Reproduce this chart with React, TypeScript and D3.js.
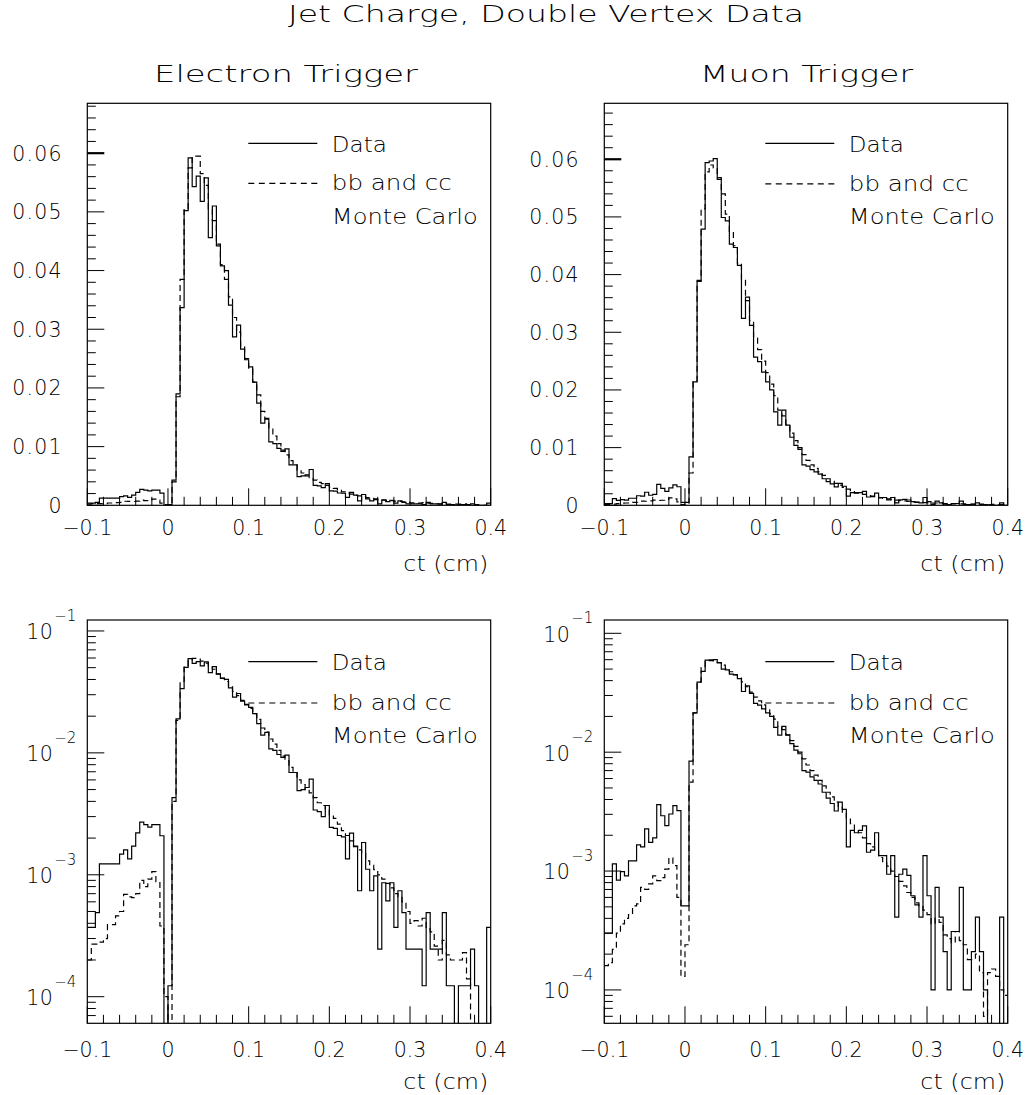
import React from "react";
import * as d3 from "d3";

// ---------- data (100 bins from -0.1 to 0.4 cm, width 0.005) ----------
const binLow = -0.1;
const binWidth = 0.005;
const nBins = 100;

const electronData = [
  0.00037, 0.00037, 0.00049, 0.00123, 0.00123, 0.00123, 0.00123, 0.00123, 0.00148, 0.0016,
  0.00135, 0.00172, 0.00221, 0.0027, 0.00258, 0.00246, 0.00258, 0.00258, 0.00209, 0,
  0.000123, 0.0043, 0.019, 0.0337, 0.0502, 0.0592, 0.0543, 0.0561, 0.0518, 0.0558,
  0.0456, 0.051, 0.0442, 0.0408, 0.04, 0.0341, 0.0287, 0.0307, 0.0266, 0.0248,
  0.0236, 0.021, 0.0174, 0.014, 0.0147, 0.0108, 0.0105, 0.0097, 0.0092, 0.0096,
  0.0069, 0.0069, 0.0049, 0.005, 0.0052, 0.0061, 0.0034, 0.0033, 0.003, 0.0037,
  0.00245, 0.0024, 0.0021, 0.00205, 0.00135, 0.0022, 0.00172, 0.00074, 0.00184, 0.00111,
  0.00074, 0.00098, 0.000246, 0.00086, 0.00061, 0.00086, 0.00037, 0.00074, 0.00049, 0.000246,
  0.000246, 0.000246, 0.000246, 0.000123, 0.00049, 0.000246, 0.000246, 0.000246, 0.00049, 0.000123,
  0.000123, 0, 0.000123, 0.000123, 0.000123, 0.000246, 0.000123, 0, 0, 0.00037,
];

const electronMC = [
  0.0002, 0.00027, 0.00027, 0.00028, 0.0003, 0.00039, 0.00039, 0.00046, 0.0005, 0.00069,
  0.00066, 0.00065, 0.0007, 0.0009, 0.0008, 0.00092, 0.00106, 0.00088, 0.00038, 0.0001,
  0, 0.004, 0.0185, 0.0385, 0.0505, 0.0575, 0.0595, 0.0595, 0.0565, 0.0545,
  0.0505, 0.0485, 0.0445, 0.041, 0.0385, 0.0355, 0.032, 0.0295, 0.027, 0.025,
  0.0232, 0.021, 0.0188, 0.016, 0.0148, 0.013, 0.0118, 0.0105, 0.0094, 0.0086,
  0.0076, 0.0069, 0.006, 0.0055, 0.005, 0.0047, 0.0043, 0.0039, 0.0037, 0.0034,
  0.0031, 0.0029, 0.0026, 0.0023, 0.0021, 0.0019, 0.0017, 0.0016, 0.0015, 0.0013,
  0.0012, 0.0011, 0.001, 0.00092, 0.00085, 0.00078, 0.0007, 0.00066, 0.0006, 0.0005,
  0.0004, 0.00042, 0.00038, 0.00044, 0.00036, 0.00034, 0.00026, 0.0002, 0.00029, 0.00022,
  0.0002, 0.0002, 0.0002, 0.00023, 0.00014, 0, 0, 0, 0, 0,
];

const muonData = [
  0.0003, 0.0003, 0.00115, 0.00084, 0.00099, 0.00091, 0.00122, 0.00122, 0.00166, 0.0016,
  0.00226, 0.00174, 0.0019, 0.00362, 0.00292, 0.00241, 0.00302, 0.00355, 0.00322, 0.00051,
  0.00051, 0.0084, 0.0214, 0.0388, 0.0479, 0.0594, 0.0597, 0.0601, 0.0568, 0.0499,
  0.0493, 0.0453, 0.0447, 0.0416, 0.0324, 0.0361, 0.0312, 0.0257, 0.0249, 0.0231,
  0.0214, 0.02, 0.0162, 0.0139, 0.0165, 0.0139, 0.0118, 0.0104, 0.0097, 0.007,
  0.0068, 0.0062, 0.0058, 0.0054, 0.0046, 0.0041, 0.0037, 0.0032, 0.0038, 0.0033,
  0.0016, 0.0022, 0.0021, 0.0022, 0.0024, 0.00144, 0.0015, 0.0021, 0.00135, 0.00135,
  0.00094, 0.00135, 0.00041, 0.00094, 0.00104, 0.00092, 0.00062, 0.00052, 0.00041, 0.00135,
  0.00062, 0.0001, 0.00073, 0.00041, 0.00021, 0.0001, 0.00031, 0.00031, 0.00073, 0.0001,
  0.0001, 0.00021, 0.00041, 0.00021, 0.0001, 0, 0, 0, 0.00041, 0,
];

const muonMC = [
  0.00016, 0.00017, 0.00022, 0.0003, 0.00036, 0.0004, 0.00043, 0.00051, 0.00053, 0.00073,
  0.0007, 0.00078, 0.00091, 0.00083, 0.00088, 0.00104, 0.00129, 0.00111, 0.0006, 0.00013,
  0.00024, 0.0056, 0.0214, 0.039, 0.0514, 0.0578, 0.059, 0.0585, 0.0565, 0.054,
  0.0505, 0.0475, 0.045, 0.042, 0.039, 0.0355, 0.032, 0.029, 0.027, 0.025,
  0.023, 0.021, 0.019, 0.0165, 0.0155, 0.014, 0.0125, 0.0112, 0.01, 0.0088,
  0.0078, 0.007, 0.0064, 0.0058, 0.0052, 0.0046, 0.0042, 0.0038, 0.0035, 0.0031,
  0.0028, 0.0025, 0.0022, 0.0021, 0.0019, 0.0017, 0.0016, 0.0015, 0.0013, 0.0012,
  0.0011, 0.001, 0.0009, 0.00082, 0.00075, 0.00066, 0.0006, 0.00054, 0.00051, 0.00047,
  0.00043, 0.00036, 0.0004, 0.00037, 0.00029, 0.00027, 0.00025, 0.00031, 0.00026, 0.00024,
  0.00018, 0.00018, 0.0002, 0.00014, 0.00006, 0.00014, 0.00015, 0.00013, 0.0001, 0.00009,
];

const xTickValues = [-0.1, 0, 0.1, 0.2, 0.3, 0.4];
const xTickLabels = ["\u22120.1", "0", "0.1", "0.2", "0.3", "0.4"];
const linTickValues = [0, 0.01, 0.02, 0.03, 0.04, 0.05, 0.06];
const linTickLabels = ["0", "0.01", "0.02", "0.03", "0.04", "0.05", "0.06"];
const logTickExponents = [-1, -2, -3, -4];

const mainTitle = "Jet Charge, Double Vertex Data";
const columnTitles = ["Electron Trigger", "Muon Trigger"];
const legendLabels = ["Data", "bb and cc", "Monte Carlo"];
const xAxisTitle = "ct (cm)";

// ---------- layout ----------
const W = 1034;
const H = 1095;
const FONT = "'DejaVu Sans', 'Liberation Sans', sans-serif";
const FW = 200;
const legendWidths = [55, 120, 146];
const ADJ = "spacingAndGlyphs";

type PanelProps = {
  id: string;
  left: number;
  top: number;
  width: number;
  height: number;
  data: number[];
  mc: number[];
  log: boolean;
  yDomain: [number, number];
  xLabelOffset: number;
  legendOffsets: number[];
};

function Panel(p: PanelProps) {
  const { left, top, width, height, data, mc, log, yDomain } = p;
  const bottom = top + height;
  const right = left + width;
  const x = d3.scaleLinear().domain([binLow, binLow + nBins * binWidth]).range([left, right]);
  const y: any = log
    ? d3.scaleLog().domain(yDomain).range([bottom, top])
    : d3.scaleLinear().domain(yDomain).range([bottom, top]);
  const yv = (v: number) => (log ? y(Math.max(v, yDomain[0] * 0.5)) : y(Math.max(v, 0)));
  const edges = d3.range(nBins + 1).map((i) => binLow + i * binWidth);
  const pts = (vals: number[]) =>
    [...vals.map((v, i) => [edges[i], v] as [number, number]), [edges[nBins], vals[nBins - 1]] as [number, number]];
  const line = d3
    .line<[number, number]>()
    .x((d) => x(d[0]))
    .y((d) => yv(d[1]))
    .curve(d3.curveStepAfter);

  const major = 17;
  const minor = 8.5;

  const xTicks = d3.range(26).map((i) => ({ v: binLow + i * 0.02, major: i % 5 === 0 }));

  let yTicks: { v: number; major: boolean; bold?: boolean }[] = [];
  if (log) {
    for (let e = -5; e <= 0; e++) {
      for (let k = 1; k <= 9; k++) {
        const v = k * Math.pow(10, e);
        if (v >= yDomain[0] && v <= yDomain[1]) yTicks.push({ v, major: k === 1 });
      }
    }
  } else {
    const n = Math.floor(yDomain[1] / 0.002 + 1e-6);
    for (let i = 0; i <= n; i++) yTicks.push({ v: i * 0.002, major: i % 5 === 0, bold: i === 30 });
  }

  const clipId = `clip-${p.id}`;
  const legendX0 = left + 161;
  const legendX1 = left + 230;
  const legendText = left + 244.5;
  const [o1, o2] = p.legendOffsets;

  return (
    <g>
      <defs>
        <clipPath id={clipId}>
          <rect x={left} y={top} width={width} height={height} />
        </clipPath>
      </defs>
      <g clipPath={`url(#${clipId})`} fill="none" stroke="#000" strokeWidth={1.2}>
        <path d={line(pts(mc)) || ""} strokeDasharray="6,4" />
        <path d={line(pts(data)) || ""} />
      </g>
      <rect x={left} y={top} width={width} height={height} fill="none" stroke="#000" strokeWidth={1.2} />
      <g stroke="#000" strokeWidth={1}>
        {xTicks.map((t, i) => (
          <line key={`xt${i}`} x1={x(t.v)} x2={x(t.v)} y1={bottom} y2={bottom - (t.major ? major : minor)} />
        ))}
        {yTicks.map((t, i) => (
          <line key={`yt${i}`} x1={left} x2={left + (t.major ? major : minor)} y1={y(t.v)} y2={y(t.v)}
            strokeWidth={t.bold ? 2.2 : 1} />
        ))}
      </g>
      <g fontFamily={FONT} fontWeight={FW} fontSize={20.5} fill="#000">
        {xTickValues.map((v, i) => (
          <text key={`xl${i}`} x={x(v)} y={bottom + p.xLabelOffset} textAnchor="middle">
            {xTickLabels[i]}
          </text>
        ))}
        <text x={right - 2.4} y={bottom + 66} textAnchor="end" textLength={85} lengthAdjust={ADJ}>
          {xAxisTitle}
        </text>
        {!log &&
          linTickValues.map((v, i) => (
            <text key={`yl${i}`} x={left - 24.5} y={y(v) + 7.5} textAnchor="end" letterSpacing={1.2}>
              {linTickLabels[i]}
            </text>
          ))}
        {log &&
          logTickExponents.map((e, i) => (
            <g key={`ll${i}`}>
              <text x={left - 34} y={y(Math.pow(10, e)) + 8.4} textAnchor="end" letterSpacing={0.5}>
                10
              </text>
              <text x={left - 33} y={y(Math.pow(10, e)) - 10} fontSize={15} textAnchor="start">
                {"\u2212" + Math.abs(e)}
              </text>
            </g>
          ))}
        {legendLabels.map((s, i) => (
          <text key={`lg${i}`} x={legendText} y={top + p.legendOffsets[i]} textLength={legendWidths[i]} lengthAdjust={ADJ}>
            {s}
          </text>
        ))}
      </g>
      <g stroke="#000" strokeWidth={1.2}>
        <line x1={legendX0} x2={legendX1} y1={top + o1 - 8.4} y2={top + o1 - 8.4} />
        <line x1={legendX0} x2={legendX1} y1={top + o2 - 7} y2={top + o2 - 7} strokeDasharray="6,4.5" />
      </g>
    </g>
  );
}

export default function App() {
  const colLeft = [87.3, 604.3];
  const rowTop = [103.3, 620];
  const size = 403.4;
  return (
    <div style={{ position: "absolute", left: 0, top: 0, width: W, height: H, background: "#fff" }}>
      <svg width={W} height={H} viewBox={`0 0 ${W} ${H}`} style={{ display: "block" }}>
        <rect x={0} y={0} width={W} height={H} fill="#fff" />
        <g fontFamily={FONT} fontWeight={FW} fill="#000" fontSize={23}>
          <text x={288} y={22} textLength={516} lengthAdjust={ADJ}>
            {mainTitle}
          </text>
          <text x={154} y={81.7} textLength={264} lengthAdjust={ADJ}>
            {columnTitles[0]}
          </text>
          <text x={700} y={81.7} textLength={213} lengthAdjust={ADJ}>
            {columnTitles[1]}
          </text>
        </g>
        <Panel id="el-lin" left={colLeft[0]} top={rowTop[0]} width={size} height={402}
          data={electronData} mc={electronMC} log={false} yDomain={[0, 0.0685]}
          xLabelOffset={30} legendOffsets={[48.4, 87, 120.3]} />
        <Panel id="mu-lin" left={colLeft[1]} top={rowTop[0]} width={size} height={402}
          data={muonData} mc={muonMC} log={false} yDomain={[0, 0.0697]}
          xLabelOffset={30} legendOffsets={[48.4, 87.5, 120.3]} />
        <Panel id="el-log" left={colLeft[0]} top={rowTop[1]} width={size} height={403.3}
          data={electronData} mc={electronMC} log={true} yDomain={[6.05e-5, 0.123]}
          xLabelOffset={34} legendOffsets={[50, 90, 123]} />
        <Panel id="mu-log" left={colLeft[1]} top={rowTop[1]} width={size} height={403.3}
          data={muonData} mc={muonMC} log={true} yDomain={[5.24e-5, 0.1294]}
          xLabelOffset={34} legendOffsets={[50, 90, 123]} />
      </svg>
    </div>
  );
}
